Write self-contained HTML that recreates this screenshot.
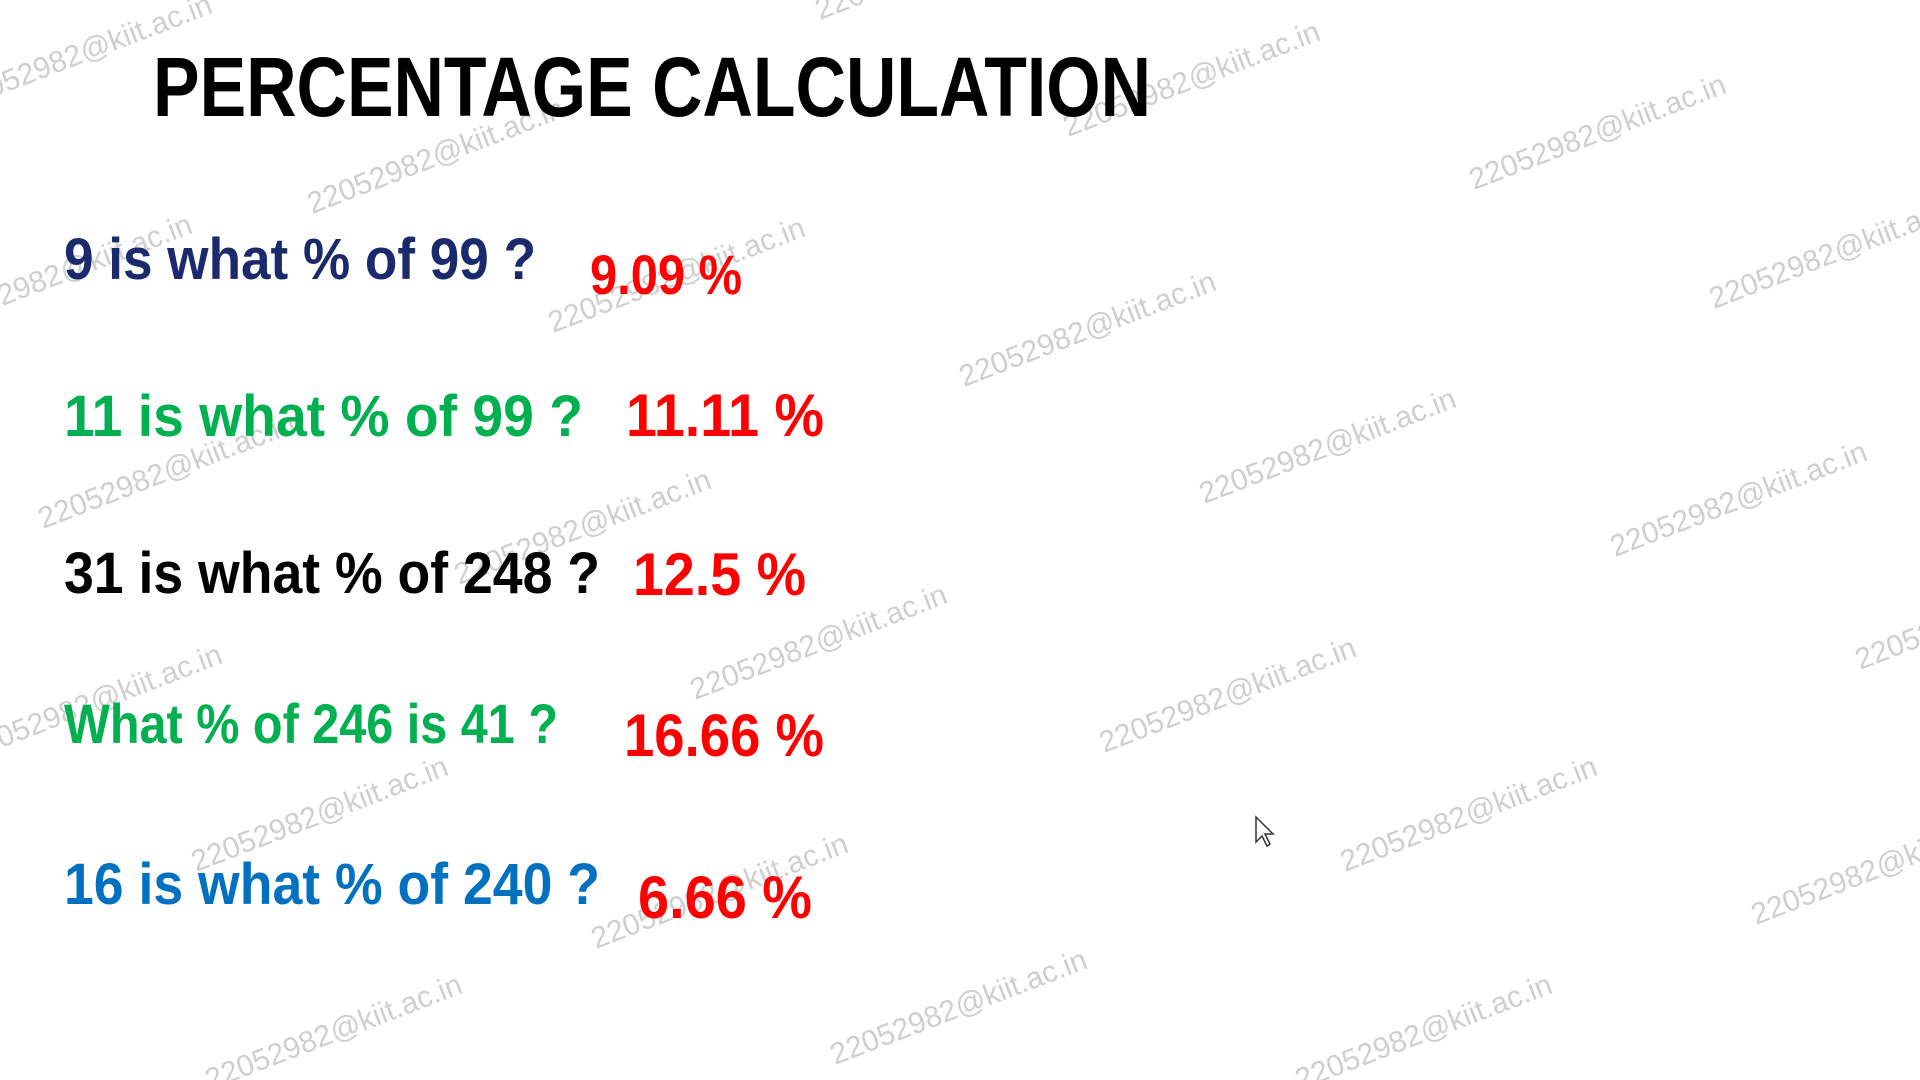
<!DOCTYPE html>
<html><head><meta charset="utf-8"><style>
html,body{margin:0;padding:0;background:#fff;}
svg{display:block;}
text{font-family:"Liberation Sans",sans-serif;font-weight:bold;}
.wm{font-weight:normal;fill:#cfcfcf;font-size:30px;}
</style></head><body>
<svg width="1920" height="1080" viewBox="0 0 1920 1080">
<g id="wms"></g>
<text x="153" y="116" font-size="84" fill="#000" textLength="998" lengthAdjust="spacingAndGlyphs">PERCENTAGE CALCULATION</text>

<text x="64" y="279" font-size="58" fill="#1a2a6c" textLength="472" lengthAdjust="spacingAndGlyphs">9 is what % of 99 ?</text>
<text x="590" y="294" font-size="56" fill="#ff0000" textLength="152" lengthAdjust="spacingAndGlyphs">9.09 %</text>

<text x="64" y="436" font-size="58" fill="#00b050" textLength="519" lengthAdjust="spacingAndGlyphs">11 is what % of  99 ?</text>
<text x="626" y="436" font-size="60" fill="#ff0000" textLength="198" lengthAdjust="spacingAndGlyphs">11.11 %</text>

<text x="64" y="593" font-size="58" fill="#000" textLength="536" lengthAdjust="spacingAndGlyphs">31 is what % of 248 ?</text>
<text x="633" y="595" font-size="60" fill="#ff0000" textLength="173" lengthAdjust="spacingAndGlyphs">12.5 %</text>

<text x="64" y="743" font-size="56" fill="#00b050" textLength="494" lengthAdjust="spacingAndGlyphs">What % of 246 is 41 ?</text>
<text x="624" y="756" font-size="60" fill="#ff0000" textLength="200" lengthAdjust="spacingAndGlyphs">16.66 %</text>

<text x="64" y="904" font-size="58" fill="#0070c0" textLength="536" lengthAdjust="spacingAndGlyphs">16 is what % of 240 ?</text>
<text x="638" y="918" font-size="60" fill="#ff0000" textLength="174" lengthAdjust="spacingAndGlyphs">6.66 %</text>

<path d="M1256 817 L1256 842 L1262 836 L1267 846 L1270 844 L1265 834 L1273 834 Z" fill="#fff" stroke="#333" stroke-width="1.5"/>
</svg>
<script>
var wmPos=[[312,214],[553,333],[964,387],[1204,504],[1474,190],[1714,309],[1615,557],[43,529],[695,700],[1104,753],[1345,872],[1756,925],[835,1065],[596,949],[196,872],[1068,137],[459,585],[-40,110],[-60,330],[-30,760],[210,1090],[1300,1090],[820,20],[1860,670]];
var g=document.getElementById('wms');
wmPos.forEach(function(p){
  var t=document.createElementNS('http://www.w3.org/2000/svg','text');
  t.setAttribute('x',p[0]);t.setAttribute('y',p[1]);
  t.setAttribute('class','wm');
  t.setAttribute('transform','rotate(-21 '+p[0]+' '+p[1]+')');
  t.textContent='22052982@kiit.ac.in';
  
  
  g.appendChild(t);
});
</script>
</body></html>
